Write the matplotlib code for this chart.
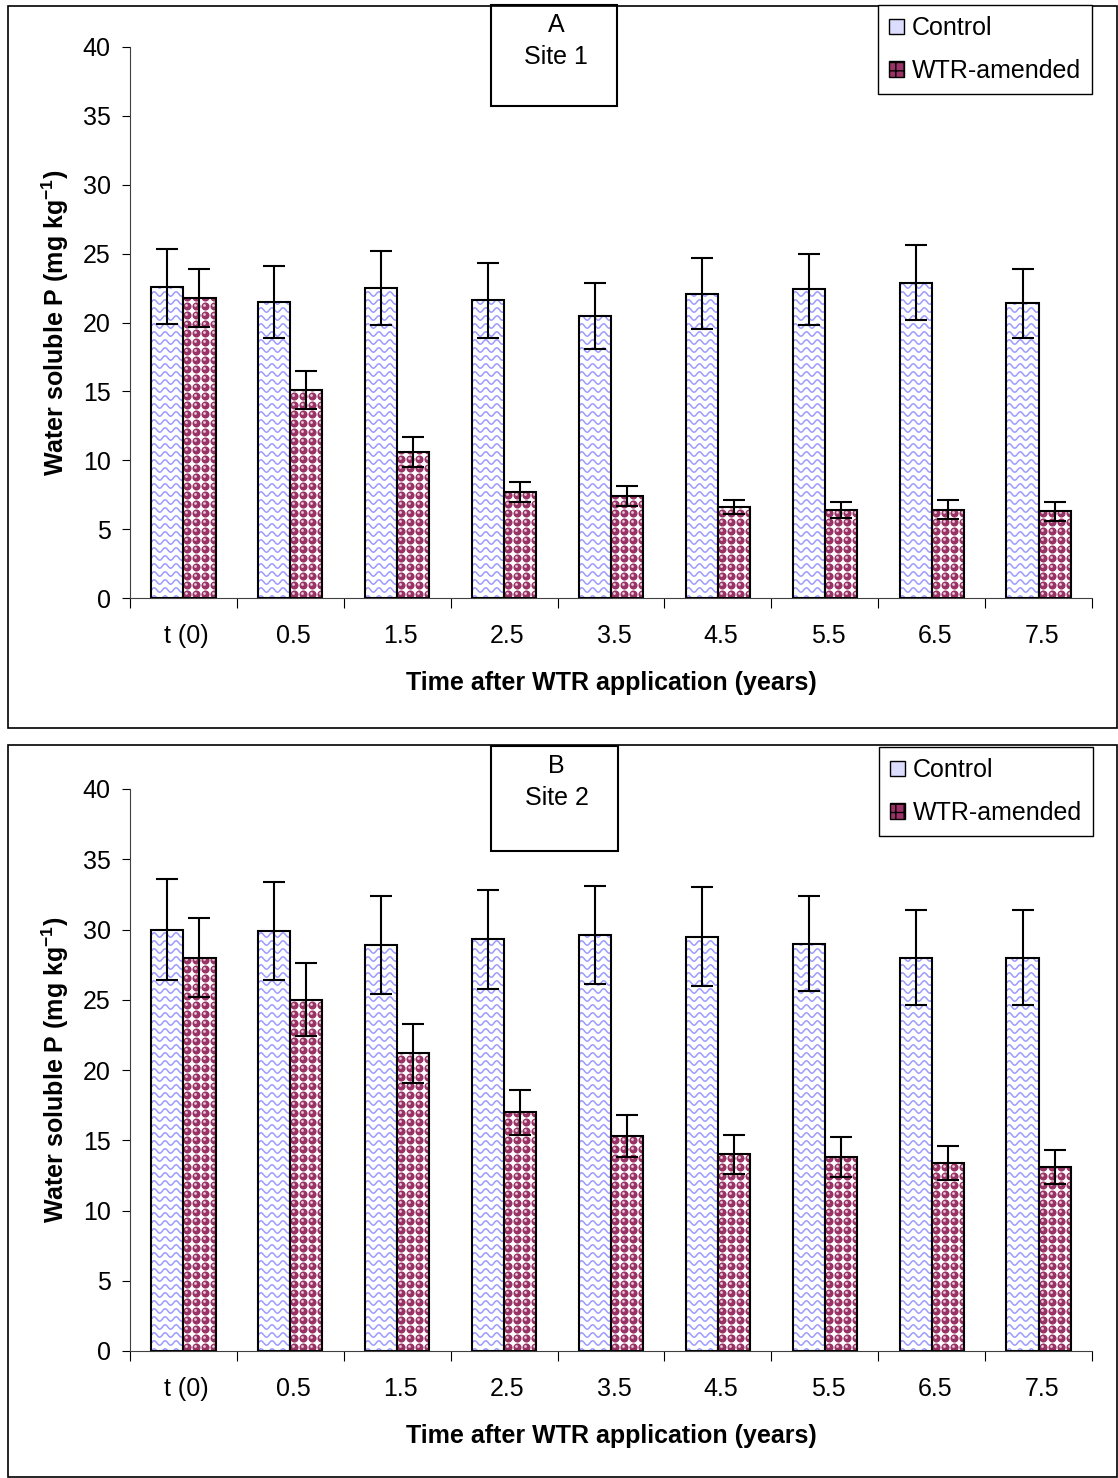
import numpy as np
import matplotlib.pyplot as plt
from matplotlib.patches import Rectangle, Patch
from matplotlib.collections import LineCollection

plt.rcParams['font.family'] = ['Liberation Sans', 'DejaVu Sans']
plt.rcParams['mathtext.fontset'] = 'custom'
plt.rcParams['mathtext.rm'] = 'Liberation Sans'
plt.rcParams['mathtext.bf'] = 'Liberation Sans:bold'

categories = ["t (0)", "0.5", "1.5", "2.5", "3.5", "4.5", "5.5", "6.5", "7.5"]

# Site 1
control_1 = [22.6, 21.5, 22.5, 21.6, 20.5, 22.1, 22.4, 22.9, 21.4]
control_1_err = [2.7, 2.6, 2.7, 2.7, 2.4, 2.6, 2.6, 2.7, 2.5]
wtr_1 = [21.8, 15.1, 10.6, 7.7, 7.4, 6.6, 6.4, 6.4, 6.3]
wtr_1_err = [2.1, 1.4, 1.1, 0.7, 0.7, 0.5, 0.6, 0.7, 0.7]

# Site 2
control_2 = [30.0, 29.9, 28.9, 29.3, 29.6, 29.5, 29.0, 28.0, 28.0]
control_2_err = [3.6, 3.5, 3.5, 3.5, 3.5, 3.5, 3.4, 3.4, 3.4]
wtr_2 = [28.0, 25.0, 21.2, 17.0, 15.3, 14.0, 13.8, 13.4, 13.1]
wtr_2_err = [2.8, 2.6, 2.1, 1.6, 1.5, 1.4, 1.4, 1.2, 1.2]

wave_col = "#9c9cff"
wtr_col = "#993366"
fs = 18

fig = plt.figure(figsize=(11.18, 14.78), dpi=100)
W, H = 1118, 1478


def fig_rect(x0, y0, x1, y1, **kw):
    # rectangle in pixel coords (top-left origin)
    return Rectangle((x0 / W, 1 - y1 / H), (x1 - x0) / W, (y1 - y0) / H,
                     transform=fig.transFigure, fill=False, **kw)


def px_scale(ax):
    pos = ax.get_position()
    sx = pos.width * W / (ax.get_xlim()[1] - ax.get_xlim()[0])
    sy = pos.height * H / (ax.get_ylim()[1] - ax.get_ylim()[0])
    return sx, sy


def fill_waves(ax, patch):
    # wavy blue lines like the Excel pattern fill
    sx, sy = px_scale(ax)
    x0, w, h = patch.get_x(), patch.get_width(), patch.get_height()
    xs = np.linspace(x0, x0 + w, 80)
    segs = []
    for yb in np.arange(0, h + 10 / sy, 8 / sy):
        ys = yb + (2.2 / sy) * np.sin(2 * np.pi * (xs - x0) * sx / 11)
        segs.append(np.column_stack([xs, ys]))
    lc = LineCollection(segs, colors=wave_col, linewidths=1.1, zorder=1.5)
    ax.add_collection(lc)
    lc.set_clip_path(patch)


def fill_dots(ax, patch):
    # maroon dots on white, like the Excel pattern fill
    sx, sy = px_scale(ax)
    x0, w, h = patch.get_x(), patch.get_width(), patch.get_height()
    gx = np.arange(x0 + 4 / sx, x0 + w + 9 / sx, 9 / sx)
    gy = np.arange(4 / sy, h + 9 / sy, 9 / sy)
    X, Y = np.meshgrid(gx, gy)
    sc = ax.scatter(X.ravel(), Y.ravel(), s=34, marker="o", color=wtr_col,
                    linewidths=0, zorder=1.5)
    sc.set_clip_path(patch)
    sc2 = ax.scatter(X.ravel() - 1 / sx, Y.ravel() + 1 / sy, s=4, marker="o",
                     color="#e8c8d8", linewidths=0, zorder=1.6)
    sc2.set_clip_path(patch)


def panel(top, bottom, ctrl, ctrl_err, wtr, wtr_err, letter, site, frame, tbox, lbox):
    fig.patches.append(fig_rect(*frame, edgecolor="black", linewidth=1.2))
    ax = fig.add_axes([130 / W, 1 - bottom / H, 962 / W, (bottom - top) / H])
    x = np.arange(len(categories))
    w = 0.3
    ax.set_xlim(-0.5, len(categories) - 0.5)
    ax.set_ylim(0, 40)
    cb = ax.bar(x - w / 2, ctrl, w, color="white", linewidth=0, zorder=1)
    wb = ax.bar(x + w / 2, wtr, w, color="white", linewidth=0, zorder=1)
    for p in cb.patches:
        fill_waves(ax, p)
    for p in wb.patches:
        fill_dots(ax, p)
    ax.bar(x - w / 2, ctrl, w, fill=False, edgecolor="black", linewidth=1.5, zorder=2)
    ax.bar(x + w / 2, wtr, w, fill=False, edgecolor="black", linewidth=1.5, zorder=2)
    ax.errorbar(x - w / 2, ctrl, yerr=ctrl_err, fmt="none", ecolor="black",
                elinewidth=1.5, capsize=8, capthick=1.5, zorder=3)
    ax.errorbar(x + w / 2, wtr, yerr=wtr_err, fmt="none", ecolor="black",
                elinewidth=1.5, capsize=8, capthick=1.5, zorder=3)
    ax.set_yticks(np.arange(0, 41, 5))
    ax.tick_params(axis="y", direction="out", length=6, labelsize=fs, pad=8)
    ax.set_xticks(np.arange(-0.5, len(categories), 1))
    ax.set_xticklabels([])
    ax.tick_params(axis="x", which="major", direction="out", length=7)
    ax.set_xticks(x + 0.03, categories, minor=True)
    ax.tick_params(axis="x", which="minor", length=0, labelsize=fs, pad=19)
    for s in ["top", "right"]:
        ax.spines[s].set_visible(False)
    ax.spines["left"].set_color("#404040")
    ax.spines["bottom"].set_color("#404040")
    ax.set_xlabel("Time after WTR application (years)", fontsize=fs, fontweight="bold", labelpad=16)
    ax.set_ylabel("Water soluble P (mg kg$^{\\mathbf{-1}}$)", fontsize=fs, fontweight="bold", labelpad=8)

    # title box
    fig.patches.append(fig_rect(*tbox, edgecolor="black", linewidth=1.5))
    cx = (tbox[0] + tbox[2]) / 2 + 2
    fig.text(cx / W, 1 - (tbox[1] + 20) / H, letter, ha="center", va="center", fontsize=fs)
    fig.text(cx / W, 1 - (tbox[1] + 52) / H, site, ha="center", va="center", fontsize=fs)

    # legend
    handles = [Patch(facecolor="#dcdcff", edgecolor="black", linewidth=1),
               Patch(facecolor=wtr_col, edgecolor="black", hatch="++", linewidth=1)]
    leg = fig.legend(handles, ["Control", "WTR-amended"], loc="upper left",
                     bbox_to_anchor=(lbox[0] / W, 1 - lbox[1] / H), fontsize=fs,
                     frameon=True, fancybox=False, edgecolor="black", framealpha=1,
                     handlelength=0.6, handleheight=0.6, handletextpad=0.3,
                     borderpad=0.45, labelspacing=0.75, borderaxespad=0)
    leg.get_frame().set_linewidth(1)
    return ax


panel(47, 598, control_1, control_1_err, wtr_1, wtr_1_err, "A", "Site 1",
      (8, 6, 1117, 728), (491, 5, 617, 106), (878, 5))
panel(789, 1351, control_2, control_2_err, wtr_2, wtr_2_err, "B", "Site 2",
      (8, 745, 1117, 1477), (491, 746, 618, 851), (879, 747))

fig.savefig("out.png", dpi=100)
